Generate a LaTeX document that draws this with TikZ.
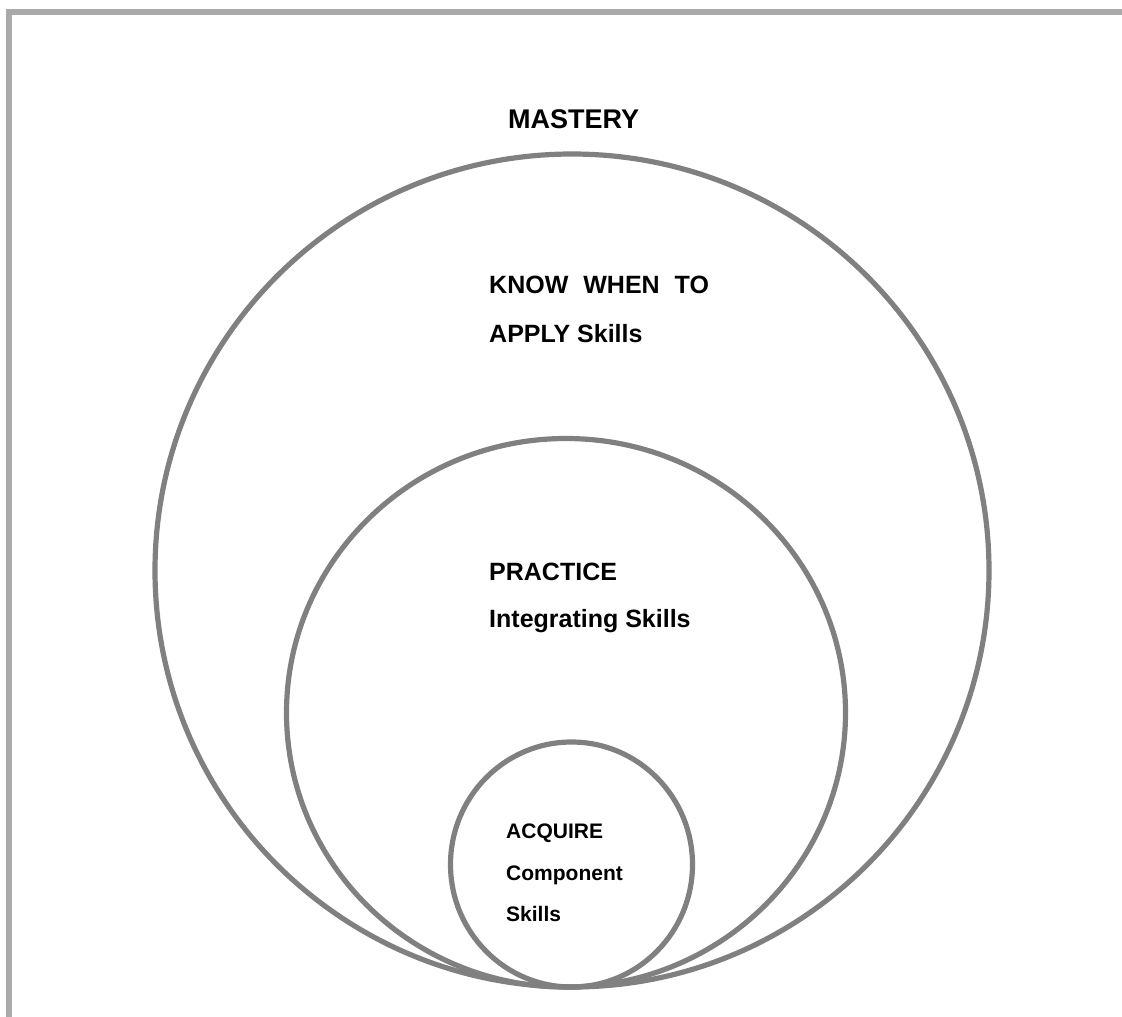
\documentclass[tikz,border=0pt]{standalone}
\usepackage{fontspec}
\setmainfont{Liberation Sans}
\definecolor{ringgray}{HTML}{808080}
\definecolor{framegray}{HTML}{AAAAAA}
\begin{document}
\begin{tikzpicture}[x=1pt,y=-1pt,
  ring/.style={draw=ringgray,line width=5.2pt},
  big/.style={font=\bfseries\fontsize{25}{30}\selectfont,anchor=base west,inner sep=0pt},
  small/.style={font=\bfseries\fontsize{21}{25}\selectfont,anchor=base west,inner sep=0pt}]
\useasboundingbox (0,0) rectangle (1122,1017);
\fill[white] (0,0) rectangle (1122,1017);
\draw[framegray,line width=5.5pt] (9.2,1017) -- (9.2,11.8) -- (1122,11.8);
\draw[ring] (572,570.5) ellipse (417 and 416.5);
\draw[ring] (566,712.75) ellipse (279.5 and 274.25);
\draw[ring] (571.5,864.5) ellipse (121 and 122.5);
\node[big,font=\bfseries\fontsize{27}{32}\selectfont] (mastery) at (508,128) {MASTERY};
\node[big] (know) at (489,293) {KNOW\hspace{15pt}WHEN\hspace{15pt}TO};
\node[big] (apply) at (489,342) {APPLY Skills};
\node[big] (practice) at (489,580) {PRACTICE};
\node[big] (integ) at (489,627) {Integrating Skills};
\node[small] (acquire) at (506,838.5) {ACQUIRE};
\node[small] (component) at (506,880) {Component};
\node[small] (skills) at (506,921.5) {Skills};
\end{tikzpicture}
\end{document}
